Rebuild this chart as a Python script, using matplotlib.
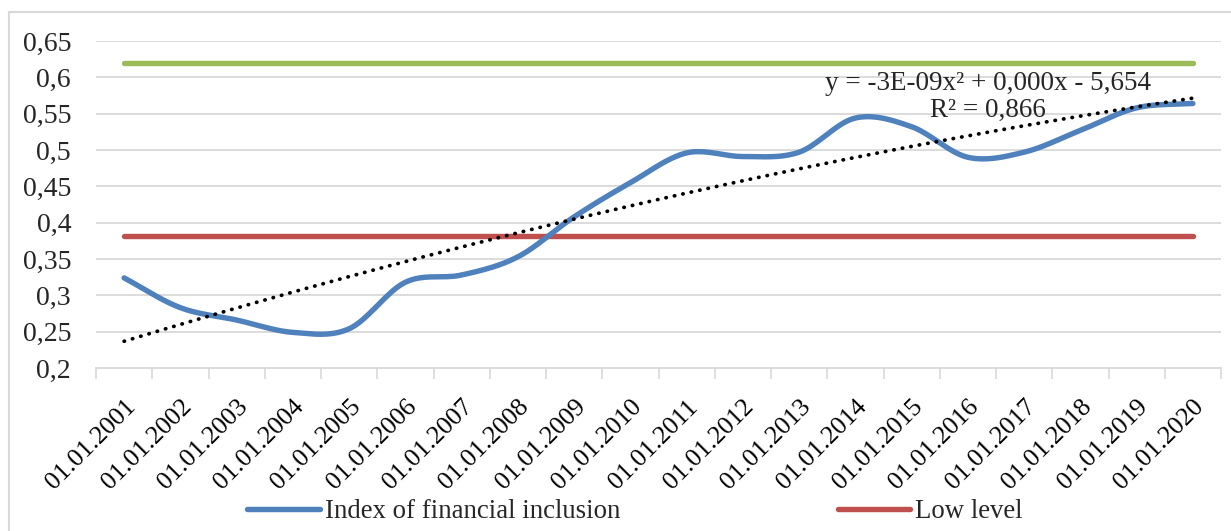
import numpy as np
import matplotlib
matplotlib.use("Agg")
import matplotlib.pyplot as plt
from matplotlib.patches import Rectangle

# data
years = list(range(2001, 2021))
dates = ["01.01.%d" % y for y in years]
index_values = [0.324, 0.283, 0.266, 0.249, 0.254, 0.318, 0.328, 0.353, 0.408, 0.455,
                0.496, 0.491, 0.497, 0.544, 0.532, 0.490, 0.497, 0.527, 0.558, 0.564]
low_level = 0.382
high_level = 0.62
y_ticks = [0.2, 0.25, 0.3, 0.35, 0.4, 0.45, 0.5, 0.55, 0.6, 0.65]

blue = "#4F81BD"
red = "#C0504D"
green = "#9BBB59"

plt.rcParams['font.family'] = ['Liberation Serif', 'DejaVu Serif']


def smooth(x, y, n=20):
    # catmull-rom, like the smoothed line in Excel
    x = np.asarray(x, float)
    y = np.asarray(y, float)
    px = np.concatenate([[2 * x[0] - x[1]], x, [2 * x[-1] - x[-2]]])
    py = np.concatenate([[2 * y[0] - y[1]], y, [2 * y[-1] - y[-2]]])
    xs, ys = [], []
    t = np.linspace(0, 1, n, endpoint=False)
    for i in range(1, len(px) - 2):
        for p, out in ((px, xs), (py, ys)):
            p0, p1, p2, p3 = p[i - 1], p[i], p[i + 1], p[i + 2]
            out.extend(0.5 * (2 * p1 + (-p0 + p2) * t
                              + (2 * p0 - 5 * p1 + 4 * p2 - p3) * t ** 2
                              + (-p0 + 3 * p1 - 3 * p2 + p3) * t ** 3))
    xs.append(x[-1])
    ys.append(y[-1])
    return np.array(xs), np.array(ys)


fig = plt.figure(figsize=(12.31, 5.31), dpi=100)
fig.patches.append(Rectangle((9 / 1231, -0.1), 1.2, 1 - 12 / 531 + 0.1,
                             transform=fig.transFigure, fill=False,
                             edgecolor="#d9d9d9", lw=1.5, zorder=0))
ax = fig.add_axes([96 / 1231, 1 - 368 / 531, (1221 - 96) / 1231, (368 - 41) / 531])

x = np.arange(len(dates))
sx, sy = smooth(x, index_values)
ax.plot(sx, sy, color=blue, lw=3.9, solid_capstyle="round", zorder=4,
        label="Index of financial inclusion")
ax.plot([x[0], x[-1]], [low_level] * 2, color=red, lw=3.9, solid_capstyle="round",
        zorder=3, label="Low level")
ax.plot([x[0], x[-1]], [high_level] * 2, color=green, lw=3.9, solid_capstyle="round",
        zorder=3, label="High level")

# quadratic trend line
coef = np.polyfit(x, index_values, 2)
tx = np.linspace(x[0], x[-1], 200)
ax.plot(tx, np.polyval(coef, tx), color="black", lw=2.7, linestyle=(0, (0.1, 2.2)),
        dash_capstyle="round", zorder=5)
ax.text(15.36, 0.573, "y = -3E-09x² + 0,000x - 5,654\nR² = 0,866", ha="center",
        va="center", fontsize=19.5, color="#262626", linespacing=1.1, zorder=6)

ax.set_xlim(-0.5, len(dates) - 0.5)
ax.set_ylim(0.2, 0.65)
ax.set_yticks(y_ticks)
ax.set_yticklabels([("%g" % v).replace(".", ",") for v in y_ticks], fontsize=20,
                   color="#262626")
ax.set_xticks(x)
ax.set_xticklabels(dates, rotation=45, ha="right", rotation_mode="anchor",
                   fontsize=18.7, color="black")
ax.set_xticks(np.arange(-0.5, len(dates)), minor=True)
ax.tick_params(axis="x", which="major", length=0, pad=20)
ax.tick_params(axis="x", which="minor", length=8, color="#d9d9d9", width=1.2)
ax.tick_params(axis="y", length=0, pad=18)
ax.grid(axis="y", color="#d9d9d9", lw=1.3)
ax.set_axisbelow(True)
for s in ["left", "right", "top"]:
    ax.spines[s].set_visible(False)
ax.spines["bottom"].set_color("#d9d9d9")
ax.spines["bottom"].set_linewidth(1.3)

handles, labels = ax.get_legend_handles_labels()
fig.legend(handles[:2], labels[:2], loc="center", bbox_to_anchor=(635 / 1231, 1 - 512 / 531),
           ncol=2, frameon=False, fontsize=19.3, handlelength=2.7, handletextpad=0.2,
           columnspacing=8.1, labelcolor="#262626", borderpad=0)

fig.savefig("out.png", dpi=100)
